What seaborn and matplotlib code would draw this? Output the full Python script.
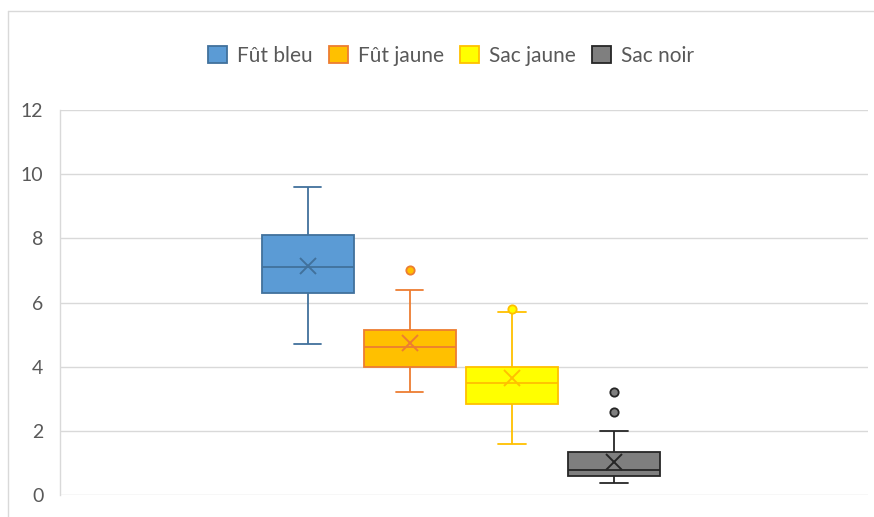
import matplotlib
matplotlib.use("Agg")
import matplotlib.pyplot as plt
from matplotlib.lines import Line2D
from matplotlib.patches import Patch
import pandas as pd
import seaborn as sns

# Measurements per container type
series = ["Fût bleu", "Fût jaune", "Sac jaune", "Sac noir"]
fut_bleu = [4.7, 5.4, 6.0, 6.3, 6.6, 6.9, 7.1, 7.4, 7.7, 8.1, 8.3, 8.7, 9.6]
fut_jaune = [3.2, 3.6, 3.8, 4.0, 4.3, 4.5, 4.6, 4.7, 5.0, 5.15, 5.4, 6.4, 7.0]
sac_jaune = [1.6, 2.4, 2.7, 2.83, 3.2, 3.3, 3.5, 3.7, 3.85, 4.0, 4.9, 5.7, 5.8]
sac_noir = [0.37, 0.40, 0.45, 0.50, 0.55, 0.60, 0.62, 0.66, 0.70, 0.74, 0.78,
            0.80, 0.82, 0.85, 0.90, 1.35, 1.38, 1.45, 2.0, 2.6, 3.2]
y_ticks = [0, 2, 4, 6, 8, 10, 12]

fill_colors = ["#5B9BD5", "#FFC000", "#FFFF00", "#7F7F7F"]
edge_colors = ["#41719C", "#ED7D31", "#FFC000", "#262626"]

values = [fut_bleu, fut_jaune, sac_jaune, sac_noir]
df = pd.DataFrame({
    "groupe": [""] * sum(len(v) for v in values),
    "série": [s for s, v in zip(series, values) for _ in v],
    "valeur": [x for v in values for x in v],
})

sns.set_theme(style="white")
plt.rcParams["font.family"] = ["Lato", "DejaVu Sans"]

fig = plt.figure(figsize=(8.74, 5.17), dpi=100)
fig.patch.set_facecolor("white")
ax = fig.add_axes([60 / 874, 22 / 517, 808 / 874, 385 / 517])

sns.boxplot(
    data=df, x="groupe", y="valeur", hue="série", hue_order=series,
    palette=dict(zip(series, fill_colors)), saturation=1,
    width=0.505, gap=0.1, whis=1.5, showmeans=True, linewidth=1.3,
    meanprops=dict(marker="x", markersize=11, markeredgewidth=1.4),
    flierprops=dict(marker="o", markersize=6),
    legend=False, ax=ax, zorder=3,
)

# Per-series edge styling
for cont, fc, ec in zip(ax.containers, fill_colors, edge_colors):
    for b in cont.boxes:
        b.set_edgecolor(ec)
        b.set_facecolor(fc)
        b.set_linewidth(1.3)
    for ln in list(cont.medians) + list(cont.whiskers):
        ln.set_color(ec)
        ln.set_linewidth(1.3)
    for ln in cont.caps:
        ln.set_color(ec)
        ln.set_linewidth(1.3)
        xs = ln.get_xdata()
        mid = (xs[0] + xs[1]) / 2
        ln.set_xdata([mid - 0.017, mid + 0.017])
    for ln in cont.means:
        ln.set_markeredgecolor(ec)
        ln.set_markerfacecolor(ec)
    for ln in cont.fliers:
        ln.set_markerfacecolor(fc)
        ln.set_markeredgecolor(ec)
        ln.set_markeredgewidth(1.3)

ax.set_xlim(-0.496, 0.504)
ax.set_ylim(0, 12)
ax.set_yticks(y_ticks)
ax.set_yticklabels([str(t) for t in y_ticks])
ax.set_xticks([])
ax.set_xlabel("")
ax.set_ylabel("")
ax.yaxis.grid(True, color="#D9D9D9", linewidth=1.0, zorder=0)
ax.set_axisbelow(True)
ax.tick_params(axis="y", length=0, pad=12, labelsize=14, labelcolor="#595959")
for side in ["top", "right", "bottom"]:
    ax.spines[side].set_visible(False)
ax.spines["left"].set_color("#D9D9D9")
ax.spines["left"].set_linewidth(1.0)

handles = [Patch(facecolor=fc, edgecolor=ec, linewidth=1.3)
           for fc, ec in zip(fill_colors, edge_colors)]
fig.legend(handles, series, loc="center", bbox_to_anchor=(451 / 874, 1 - 56 / 517),
           ncol=4, frameon=False, fontsize=15, labelcolor="#595959",
           handlelength=0.9, handleheight=0.9, handletextpad=0.48,
           columnspacing=0.8)

# Chart frame
fig.add_artist(Line2D([8 / 874, 1], [1 - 11 / 517] * 2,
                      transform=fig.transFigure, color="#D9D9D9", linewidth=1))
fig.add_artist(Line2D([8 / 874] * 2, [0, 1 - 11 / 517],
                      transform=fig.transFigure, color="#D9D9D9", linewidth=1))

fig.savefig("out.png", dpi=100, facecolor="white")
